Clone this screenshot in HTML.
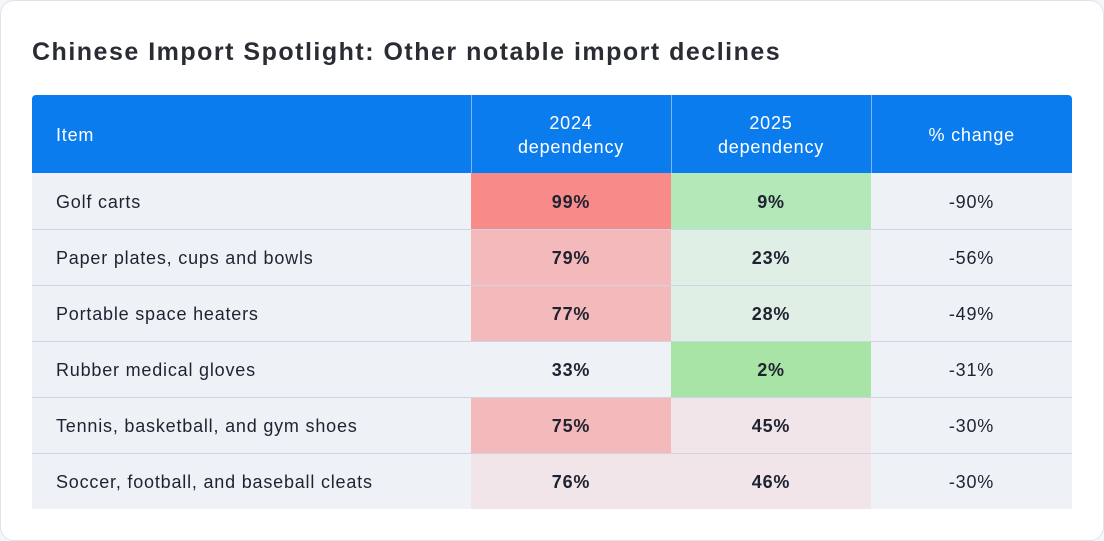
<!DOCTYPE html>
<html><head><meta charset="utf-8"><style>
*{box-sizing:border-box;margin:0;padding:0}
body{width:1104px;height:541px;background:#f5f6f9;font-family:"Liberation Sans",sans-serif;position:relative;overflow:hidden}
.card{position:absolute;left:0;top:0;width:1104px;height:541px;background:#fff;border:1px solid #e1e3ea;border-radius:14px}
h1{position:absolute;left:31px;top:37px;font-size:25px;font-weight:bold;color:#2a2c33;letter-spacing:1.5px;white-space:nowrap}
table{position:absolute;left:31px;top:94px;width:1040px;border-collapse:collapse;font-size:18px;color:#1f2230;letter-spacing:0.8px}
th{background:#0b7cee;color:#fff;font-weight:normal;height:78px;line-height:24px;border-left:1px solid #7fb8f5;padding-top:2px}
th:first-child{text-align:left;padding-left:24px;border-left:none;border-top-left-radius:4px}
th:last-child{border-top-right-radius:4px}
td{height:56px;background:#eef2f7;border-top:1px solid #cdd5e1;text-align:center;padding-top:3px}
tr:nth-child(2) td{border-top:none}
td:first-child{text-align:left;padding-left:24px}
td.v{font-weight:bold}
</style></head><body>
<div class="card">
<h1>Chinese Import Spotlight: Other notable import declines</h1>
<table>
<colgroup><col style="width:439px"><col style="width:200px"><col style="width:200px"><col style="width:201px"></colgroup>
<tr><th>Item</th><th>2024<br>dependency</th><th>2025<br>dependency</th><th>% change</th></tr>
<tr><td>Golf carts</td><td class="v" style="background:#f98a8a">99%</td><td class="v" style="background:#b3e8b8">9%</td><td>-90%</td></tr>
<tr><td>Paper plates, cups and bowls</td><td class="v" style="background:#f4b9ba">79%</td><td class="v" style="background:#dfefe6">23%</td><td>-56%</td></tr>
<tr><td>Portable space heaters</td><td class="v" style="background:#f4b9ba">77%</td><td class="v" style="background:#dfefe6">28%</td><td>-49%</td></tr>
<tr><td>Rubber medical gloves</td><td class="v">33%</td><td class="v" style="background:#a8e4a6">2%</td><td>-31%</td></tr>
<tr><td>Tennis, basketball, and gym shoes</td><td class="v" style="background:#f4b9ba">75%</td><td class="v" style="background:#f1e5ea">45%</td><td>-30%</td></tr>
<tr><td>Soccer, football, and baseball cleats</td><td class="v" style="background:#f1e5ea">76%</td><td class="v" style="background:#f1e5ea">46%</td><td>-30%</td></tr>
</table>
</div>
</body></html>
